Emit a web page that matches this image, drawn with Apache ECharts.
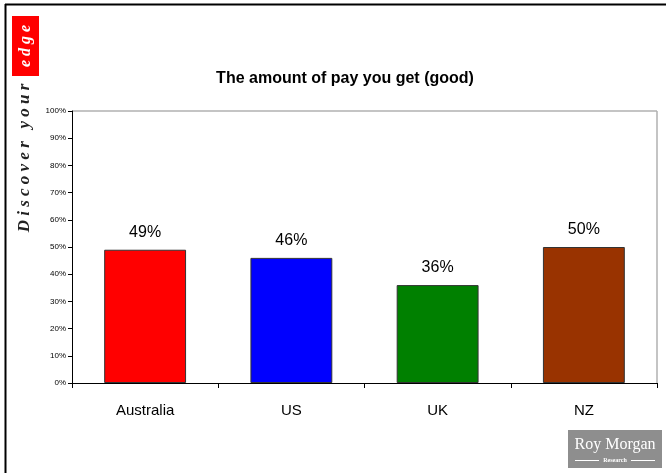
<!DOCTYPE html>
<html>
<head>
<meta charset="utf-8">
<script src="https://cdn.jsdelivr.net/npm/echarts@6/dist/echarts.min.js"></script>
<style>
  html, body { margin: 0; padding: 0; background: #fff; }
  #chart { width: 666px; height: 473px; }
</style>
</head>
<body>
<div id="chart"></div>
<script>
// Survey result: share rating their pay as good, by country
const countries = ['Australia', 'US', 'UK', 'NZ'];
const goodPay = [49, 46, 36, 50];
const barColors = ['#ff0000', '#0000ff', '#008000', '#993300'];
const yTicks = [0, 10, 20, 30, 40, 50, 60, 70, 80, 90, 100];

const chart = echarts.init(document.getElementById('chart'), null, { renderer: 'canvas' });

const serifFont = '"Liberation Serif", "DejaVu Serif", serif';
const sansFont = '"Liberation Sans", Arial, sans-serif';

chart.setOption({
  animation: false,
  backgroundColor: '#ffffff',
  title: {
    text: 'The amount of pay you get (good)',
    left: 340,
    top: 66,
    textAlign: 'center',
    textStyle: { fontFamily: sansFont, fontWeight: 'bold', fontSize: 16, color: '#000' }
  },
  grid: { left: 72, right: 9, top: 111, bottom: 90, containLabel: false },
  xAxis: {
    type: 'category',
    data: countries,
    axisLine: { lineStyle: { color: '#000', width: 1 } },
    axisTick: { show: true, alignWithLabel: false, length: 5, lineStyle: { color: '#000' } },
    axisLabel: { fontFamily: sansFont, fontSize: 15, color: '#000', margin: 20 },
    splitLine: { show: false }
  },
  yAxis: {
    type: 'value',
    min: yTicks[0],
    max: yTicks[yTicks.length - 1],
    interval: 10,
    axisLine: { show: true, lineStyle: { color: '#000', width: 1 } },
    axisTick: { show: true, length: 4, lineStyle: { color: '#000' } },
    axisLabel: { fontFamily: sansFont, fontSize: 8, color: '#000', margin: 6, formatter: v => v + '%' },
    splitLine: { show: false }
  },
  series: [
    {
      type: 'bar',
      barWidth: '56%',
      data: goodPay.map((v, i) => ({ value: v, itemStyle: { color: barColors[i] } })),
      itemStyle: { borderColor: '#333333', borderWidth: 1 },
      label: {
        show: true,
        position: 'top',
        distance: 9,
        fontFamily: sansFont,
        fontSize: 16,
        color: '#000',
        formatter: p => p.value + '%'
      }
    }
  ],
  graphic: [
    // outer frame (top and left edges)
    { type: 'line', shape: { x1: 5, y1: 4.5, x2: 666, y2: 4.5 }, style: { stroke: '#000', lineWidth: 2 } },
    { type: 'line', shape: { x1: 5.5, y1: 4, x2: 5.5, y2: 473 }, style: { stroke: '#000', lineWidth: 2 } },
    // plot area frame (top and right)
    { type: 'line', shape: { x1: 72, y1: 111, x2: 657, y2: 111 }, style: { stroke: '#b0b0b0', lineWidth: 1.5 } },
    { type: 'line', shape: { x1: 657, y1: 111, x2: 657, y2: 383 }, style: { stroke: '#b0b0b0', lineWidth: 1.5 } },
    // vertical tagline
    { type: 'rect', shape: { x: 12, y: 16, width: 27, height: 60 }, style: { fill: '#ff0000' } },
    {
      type: 'text', x: 26, y: 46, rotation: Math.PI / 2,
      style: {
        text: 'e d g e', fill: '#ffffff', font: 'italic bold 16px ' + serifFont,
        align: 'center', verticalAlign: 'middle'
      }
    },
    {
      type: 'text', x: 25, y: 158, rotation: Math.PI / 2,
      style: {
        text: 'D i s c o v e r   y o u r', fill: '#222222', font: 'italic bold 17px ' + serifFont,
        align: 'center', verticalAlign: 'middle'
      }
    },
    // company badge
    { type: 'rect', shape: { x: 568, y: 430, width: 94, height: 38 }, style: { fill: '#8e8e8e' } },
    {
      type: 'text', x: 615, y: 445,
      style: { text: 'Roy Morgan', fill: '#ffffff', font: '16px ' + serifFont, align: 'center', verticalAlign: 'middle' }
    },
    {
      type: 'text', x: 615, y: 460,
      style: { text: 'Research', fill: '#ffffff', font: 'bold 6px ' + serifFont, align: 'center', verticalAlign: 'middle' }
    },
    { type: 'line', shape: { x1: 575, y1: 460.5, x2: 599, y2: 460.5 }, style: { stroke: '#ffffff', lineWidth: 1 } },
    { type: 'line', shape: { x1: 631, y1: 460.5, x2: 655, y2: 460.5 }, style: { stroke: '#ffffff', lineWidth: 1 } }
  ]
});
</script>
</body>
</html>
